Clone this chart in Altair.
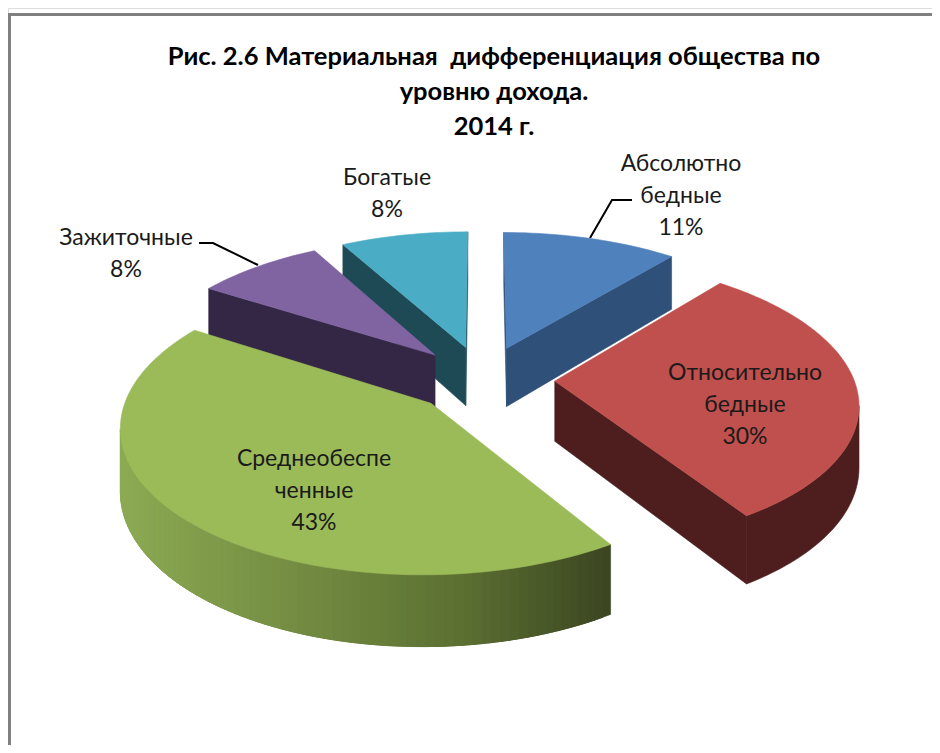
import numpy as np
import altair as alt

# ---- data ----
labels = [["Абсолютно", "бедные"], ["Относительно", "бедные"], ["Среднеобеспе", "ченные"], ["Зажиточные"], ["Богатые"]]
shares = [11, 30, 43, 8, 8]
top_colors = ["#4F81BD", "#C0504D", "#9BBB59", "#8064A2", "#4BACC6"]
side_colors = ["#2F5078", "#4E1E1E", None, "#342745", "#1E4A56"]
green_stops = ["#8CAB53", "#5C7032", "#3C4721"]
title_lines = ["Рис. 2.6 Материальная \u00a0дифференциация общества по", "уровню дохода.", "2014 г."]
label_xy = [(681, 164), (745, 373), (314, 459), (126, 238), (387, 178)]
draw_order = [4, 0, 3, 1, 2]

# ---- layout of the 3-D view (page pixels) ----
OFF = 8
CX, CY, RX, RY, P, E, H = 483, 379, 299, 140, 0.14, 0.24, 60


def project(theta, r, mid, drop=0.0):
    X = r * np.sin(theta) + E * np.sin(mid)
    Z = r * np.cos(theta) + E * np.cos(mid)
    s = 1 / (1 + P * Z)
    return [float(CX + RX * X * s - OFF), float(CY - RY * Z * s + drop * s - OFF)]


def hex2rgb(c):
    return np.array([int(c[i:i + 2], 16) for i in (1, 3, 5)], float)


def green_at(x):
    t = float(np.clip((x + OFF - 120) / (605 - 120), 0, 1))
    a, b = (0, 1) if t < 0.7 else (1, 2)
    u = t / 0.7 if t < 0.7 else (t - 0.7) / 0.3
    rgb = hex2rgb(green_stops[a]) * (1 - u) + hex2rgb(green_stops[b]) * u
    return "#%02x%02x%02x" % tuple(int(round(v)) for v in rgb)


def poly(points, color):
    ring = points + [points[0]]
    return {"type": "Feature", "properties": {"color": color},
            "geometry": {"type": "Polygon", "coordinates": [ring]}}


edges = np.cumsum([0] + shares) / sum(shares) * 2 * np.pi
features = []
for i in draw_order:
    a, b = edges[i], edges[i + 1]
    mid = (a + b) / 2
    thetas = np.linspace(a, b, max(6, int((b - a) / np.radians(1.5))))
    side = side_colors[i]
    # cut faces
    for t0, r0, t1, r1 in ((a, 0, a, 1), (b, 1, b, 0)):
        p, q = project(t0, r0, mid), project(t1, r1, mid)
        if q[0] < p[0]:
            features.append(poly([p, q, project(t1, r1, mid, H), project(t0, r0, mid, H)], side or green_stops[2]))
    # rim: the part whose screen x falls as theta grows faces the viewer
    xs = [project(t, 1, mid)[0] for t in thetas]
    vis = [t for k, t in enumerate(thetas)
           if (k + 1 < len(thetas) and xs[k + 1] < xs[k]) or (k > 0 and xs[k] < xs[k - 1])]
    if len(vis) > 1:
        if side:
            features.append(poly([project(t, 1, mid) for t in vis]
                                 + [project(t, 1, mid, H) for t in reversed(vis)], side))
        else:
            for k in range(len(vis) - 1):
                span = vis[k:k + 4]  # each strip runs under the next ones, so no seam shows
                c = green_at((project(vis[k], 1, mid)[0] + project(vis[k + 1], 1, mid)[0]) / 2)
                features.append(poly([project(t, 1, mid) for t in span]
                                     + [project(t, 1, mid, H) for t in reversed(span)], c))
    # top
    features.append(poly([project(a, 0, mid)] + [project(t, 1, mid) for t in thetas], top_colors[i]))

lines = [
    {"pts": [(632, 200), (612, 200), (590, 238)], "color": "#000000", "w": 2},
    {"pts": [(199, 243), (213, 243), (258, 265)], "color": "#000000", "w": 2},
]

frame_feats = [{"type": "Feature", "properties": {"w": l["w"], "color": l["color"]},
                "geometry": {"type": "LineString",
                             "coordinates": [[x - OFF, y - OFF] for x, y in l["pts"]]}} for l in lines]

proj = alt.Projection(type="identity", scale=1, translate=[0, 0])

frame_top = alt.Chart(alt.Data(values=[{"k": 1}])).mark_rule(color="#808080", strokeWidth=3).encode(
    x=alt.value(0), x2=alt.value(924), y=alt.value(6.5))
frame_left = alt.Chart(alt.Data(values=[{"k": 1}])).mark_rule(color="#808080", strokeWidth=3).encode(
    x=alt.value(1.5), y=alt.value(5), y2=alt.value(737))

pie = alt.Chart(alt.Data(values=features)).mark_geoshape(strokeWidth=0.6, opacity=1, fillOpacity=1, strokeOpacity=1).encode(
    fill=alt.Fill("properties.color:N", scale=None),
    stroke=alt.Stroke("properties.color:N", scale=None),
).project(**proj.to_dict())

leaders = alt.Chart(alt.Data(values=frame_feats)).mark_geoshape(filled=False, opacity=1).encode(
    stroke=alt.Stroke("properties.color:N", scale=None),
    strokeWidth=alt.StrokeWidth("properties.w:Q", scale=None),
).project(**proj.to_dict())

text_rows = []
for lab, v, (x, y) in zip(labels, shares, label_xy):
    for k, s in enumerate(lab + [f"{v}%"]):
        text_rows.append({"x": x - OFF, "y": y + k * 32 - OFF, "t": s})

FONT = "Lato"
label_text = alt.Chart(alt.Data(values=text_rows)).mark_text(
    font=FONT, fontSize=23, color="#1a1a1a", align="center", baseline="middle"
).encode(x=alt.X("x:Q", scale=None), y=alt.Y("y:Q", scale=None), text="t:N")

title_rows = [{"x": 494 - OFF, "y": y - OFF, "t": s} for s, y in zip(title_lines, [57, 92, 127])]
title_text = alt.Chart(alt.Data(values=title_rows)).mark_text(
    font=FONT, fontSize=25.5, fontWeight="bold", color="#000000", align="center", baseline="middle"
).encode(x=alt.X("x:Q", scale=None), y=alt.Y("y:Q", scale=None), text="t:N")

chart = alt.layer(frame_top, frame_left, leaders, pie, label_text, title_text).properties(
    width=924, height=737, padding=0, autosize=alt.AutoSizeParams(type="none")
).configure_view(stroke=None).configure(background="#ffffff")
chart.save("out.html", embed_options={"renderer": "svg", "actions": False})
